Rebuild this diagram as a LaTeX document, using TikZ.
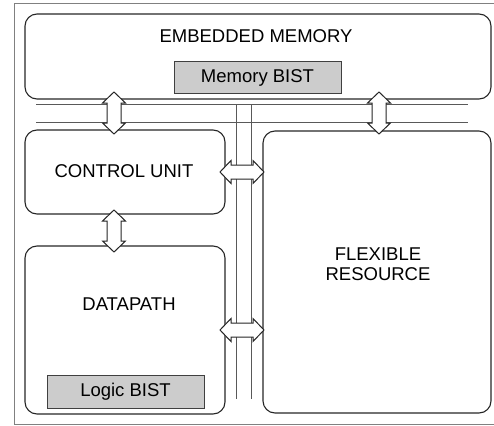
\documentclass[tikz,border=0pt]{standalone}
\usepackage{fontspec}
\setmainfont{Liberation Sans}
\begin{document}
% vertical two-headed block arrow: x, top tip y, bottom tip y
\newcommand\vbiarrow[3]{%
  \filldraw[blockarrow] (#1,#2) -- ++(11.5,11) -- ++(-4.5,0) -- (#1+7,#3-11)
    -- ++(4.5,0) -- (#1,#3) -- ++(-11.5,-11) -- ++(4.5,0) -- (#1-7,#2+11)
    -- ++(-4.5,0) -- cycle;}
% horizontal two-headed block arrow: y, left tip x, right tip x
\newcommand\hbiarrow[3]{%
  \filldraw[blockarrow] (#2,#1) -- ++(11,-11.5) -- ++(0,4.5) -- (#3-11,#1-7)
    -- ++(0,-4.5) -- (#3,#1) -- ++(-11,11.5) -- ++(0,-4.5) -- (#2+11,#1+7)
    -- ++(0,4.5) -- cycle;}
\begin{tikzpicture}[x=1pt,y=-1pt,
  every node/.style={font=\fontsize{18.5}{21}\selectfont, inner sep=0pt},
  unit/.style={draw=black!85, line width=1.1pt, rounded corners=12pt},
  bist/.style={draw=black!75, line width=1pt, fill=black!20},
  bus/.style={draw=black!65, line width=1pt},
  blockarrow/.style={draw=black!85, fill=white, line width=1pt, line join=miter},
  frame/.style={draw=black!50, line width=1pt}]
\useasboundingbox (0,0) rectangle (494,425);
% outer frame
\draw[frame] (496,4) -- (14,4) -- (14,424) -- (496,424);

% functional blocks
\draw[unit] (25,14) rectangle (491,99);
\node (memtxt) at (256,36.5) {EMBEDDED MEMORY};
\node[bist, minimum width=167pt, minimum height=31pt] (membist) at (257.5,77.5) {Memory BIST};

\draw[unit] (25,130) rectangle (225,214);
\node (ctrl) at (124,171.5) {CONTROL UNIT};

\draw[unit] (25,246) rectangle (225,414);
\node (dp) at (129,304) {DATAPATH};
\node[bist, minimum width=157pt, minimum height=33pt] (logbist) at (125.5,391.5) {Logic BIST};

\draw[unit] (263,131) rectangle (491,413);
\node[align=center, font=\fontsize{18.5}{20}\selectfont] (flex) at (378,264) {FLEXIBLE\\RESOURCE};

% interconnect bus
\draw[bus] (36,104) -- (468,104);
\draw[bus] (36,122) -- (468,122);
\draw[bus] (236,104) -- (236,399);
\draw[bus] (251,104) -- (251,399);

% block arrows
\vbiarrow{114}{92}{134}
\vbiarrow{114}{210}{252}
\vbiarrow{379}{92}{134}
\hbiarrow{172}{220}{264}
\hbiarrow{330}{220}{264}
\end{tikzpicture}
\end{document}
